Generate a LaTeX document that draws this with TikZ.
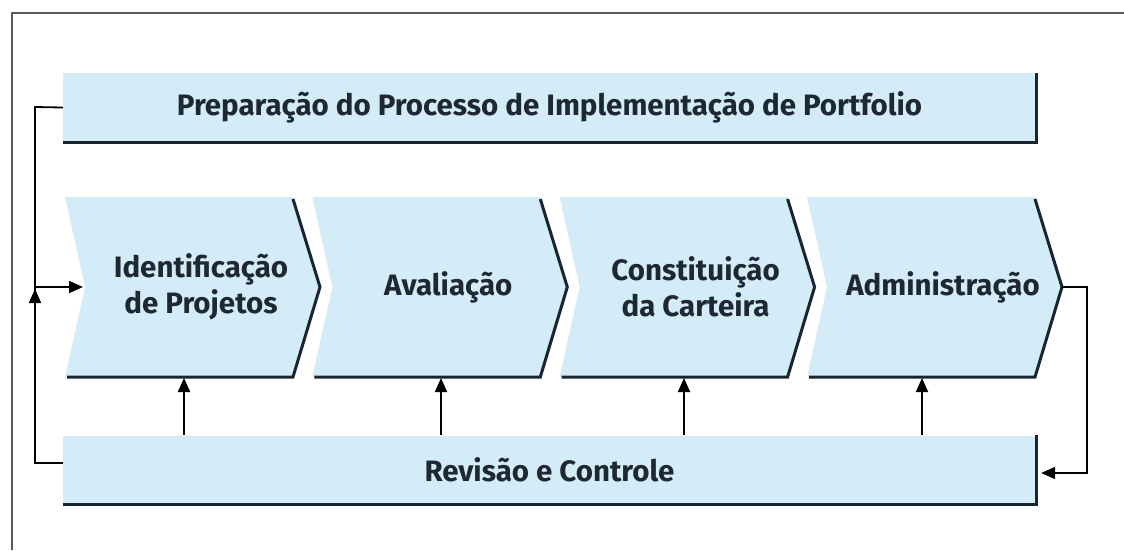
\documentclass[tikz,border=0pt]{standalone}
\usepackage{fontspec}
\setmainfont{Fira Sans}
\usetikzlibrary{arrows.meta,calc}
\definecolor{boxfill}{HTML}{D4ECF8}
\definecolor{darkline}{HTML}{1B2530}
\definecolor{txt}{HTML}{1D2833}
\definecolor{framec}{HTML}{5A5A5A}
\tikzset{
  lbl/.style={font=\fontsize{29.5}{36}\selectfont\bfseries, text=txt, align=center},
  bar/.style={fill=boxfill, draw=none, minimum width=973pt, minimum height=69pt, inner sep=0pt},
  shadowline/.style={draw=darkline, line width=3pt},
  conn/.style={draw=black, line width=1.8pt},
  tip/.style={-{Triangle[length=14pt,width=12pt]}}
}
\begin{document}
\begin{tikzpicture}[x=1pt,y=-1pt]
\useasboundingbox (0,0) rectangle (1124,550);
% frame
\draw[framec, line width=2pt] (12,550) -- (12,13) -- (1124,13);
% top bar
\node[bar] (prep) at (549.5,107.5) {};
\node[lbl] (preptxt) at (prep.center) {Preparação do Processo de Implementação de Portfolio};
\draw[shadowline] (prep.south west) -- (prep.south east) -- (prep.north east);
% bottom bar
\node[bar] (rev) at (549.5,470) {};
\node[lbl] (revtxt) at (rev.center) {Revisão e Controle};
\draw[shadowline] (rev.south west) -- (rev.south east) -- (rev.north east);
% chevrons
\foreach \i/\L/\t in {1/65/{Identificação\\de Projetos}, 2/312.3/{Avaliação}, 3/559.6/{Constituição\\da Carteira}, 4/807/{Administração}} {
  \fill[boxfill] (\L,197) -- (\L+228,197) -- (\L+255,287) -- (\L+228,377) -- (\L,377) -- (\L+20,287) -- cycle;
  \draw[shadowline, line join=miter] (\L+228,199) -- (\L+255,287) -- (\L+228,377) -- (\L+2,377);
  \node[lbl] (c\i) at (\L+136,287) {\t};
  \coordinate (n\i) at (\L+20,287);
  \coordinate (p\i) at (\L+255,287);
}
% upward arrows
\foreach \x/\i in {184/1,441/2,684/3,922/4} {
  \draw[conn,tip] (\x,435) -- (\x,378);
}
% left feedback
\coordinate (fl) at (35,287);
\draw[conn] (rev.west |- 0,463) -- (35,463) -- (35,107) -- (prep.west);
\draw[conn,tip] (35,330) -- (35,289);
\draw[conn,tip] (fl) -- ($(n1)+(-2,0)$);
% right feedback
\coordinate (fr) at (1087,287);
\draw[conn,tip] (p4) -- (fr) -- (1087,473) -- ($(rev.east |- 0,473)+(5,0)$);
\end{tikzpicture}
\end{document}
